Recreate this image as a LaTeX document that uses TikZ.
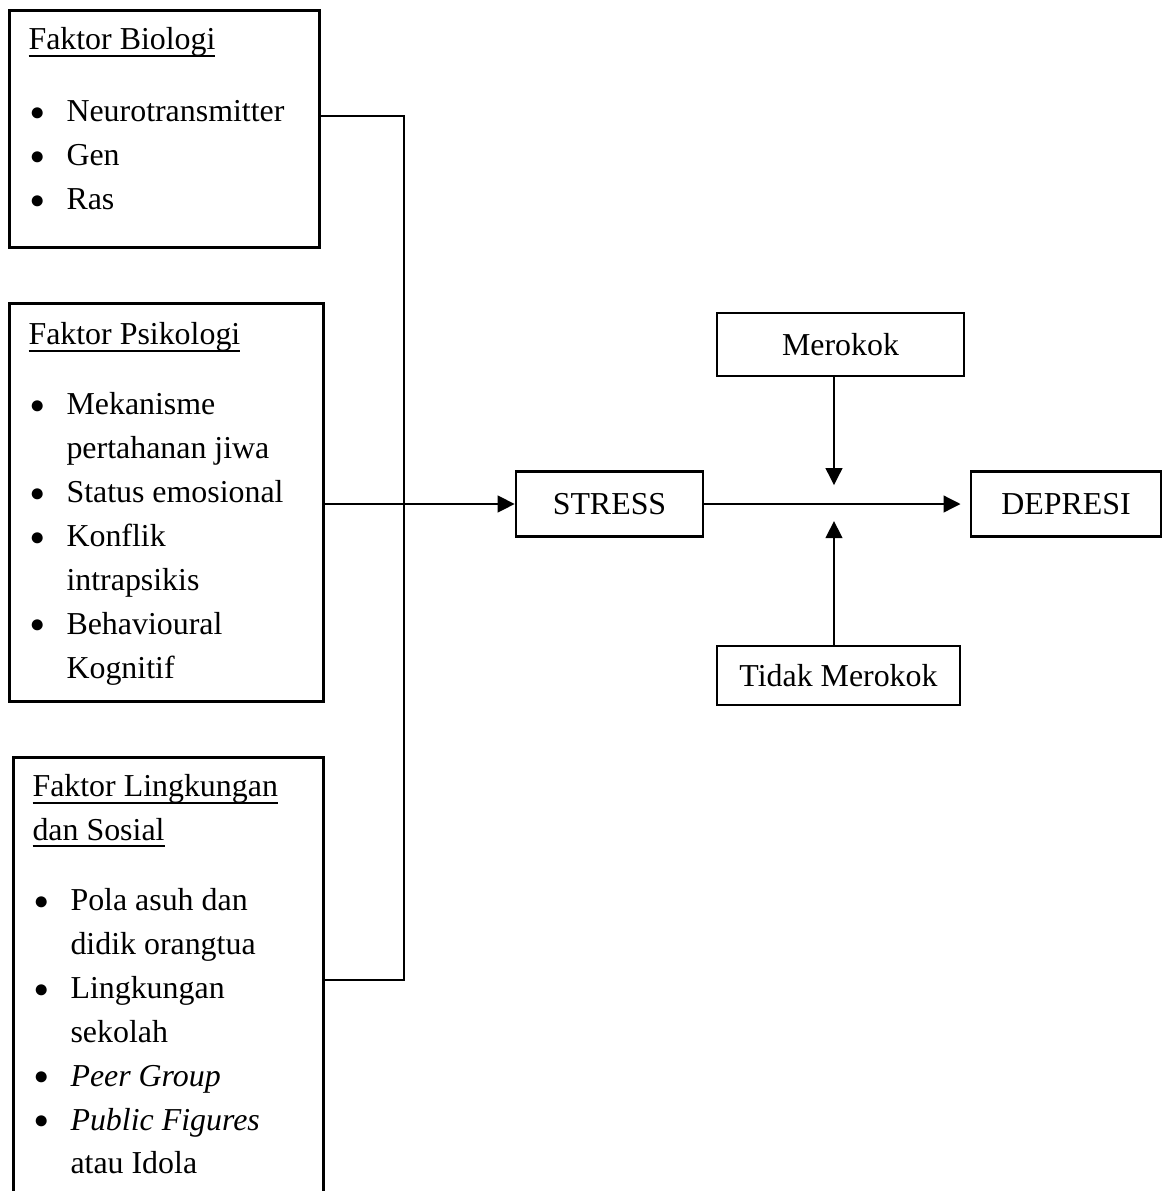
\documentclass[tikz,border=0pt]{standalone}
\usepackage{fontspec}
\setmainfont{Liberation Serif}
\usetikzlibrary{arrows.meta,positioning}
\newcommand{\ulbox}[1]{\setbox0\hbox{#1}\rlap{\rule[-2.6pt]{\wd0}{0.75pt}}\box0}
\newcommand{\bul}{\raisebox{0.5pt}{\fontsize{9.6}{9.6}\selectfont ●}}
\newcommand{\itm}[1]{\hspace*{0.4pt}\makebox[13.9pt][l]{\bul}#1}
\newcommand{\cnt}[1]{\hspace*{14.3pt}#1}
\tikzset{
  factor/.style={draw,line width=1pt,anchor=north west,inner sep=0pt},
  factortext/.style={anchor=north west,inner sep=0pt,align=left,font=\fontsize{12}{16.5}\selectfont},
  varbox/.style={draw,line width=1pt,font=\fontsize{12}{14}\selectfont,inner sep=0pt},
  link/.style={line width=1pt},
  arr/.style={-{Triangle[length=6.4pt,width=6.2pt]},line width=1pt}
}
\begin{document}
\begin{tikzpicture}[x=0.3762pt,y=-0.3762pt]
\path[use as bounding box] (0,0) rectangle (1163,1191);
\clip (0,0) rectangle (1163,1191);
% faktor boxes
\node[factor,minimum width=116.6pt,minimum height=89.2pt] (bio) at (8,9) {};
\node[factor,minimum width=118.1pt,minimum height=149.7pt] (psy) at (8,302) {};
\node[factor,minimum width=116.6pt,minimum height=173pt] (env) at (12,756) {};
\node[factortext] (bio-text) at (28,27) {\ulbox{Faktor Biologi}\\[10.6pt]
  \itm{Neurotransmitter}\\ \itm{Gen}\\ \itm{Ras}};
\node[factortext] (psy-text) at (28,322) {\ulbox{Faktor Psikologi}\\[9.9pt]
  \itm{Mekanisme}\\ \cnt{pertahanan jiwa}\\ \itm{Status emosional}\\
  \itm{Konflik}\\ \cnt{intrapsikis}\\ \itm{Behavioural}\\ \cnt{Kognitif}};
\node[factortext] (env-text) at (32,774) {\ulbox{Faktor Lingkungan}\\ \ulbox{dan Sosial}\\[9.9pt]
  \itm{Pola asuh dan}\\ \cnt{didik orangtua}\\ \itm{Lingkungan}\\ \cnt{sekolah}\\
  \itm{\textit{Peer Group}}\\ \itm{\textit{Public Figures}}\\ \cnt{atau Idola}};
% variabel
\node[varbox,minimum width=70.3pt,minimum height=24.5pt] (stress) at (609.5,504) {STRESS};
\node[varbox,minimum width=71.5pt,minimum height=24.5pt] (depresi) at (1066,504) {DEPRESI};
\node[varbox,minimum width=92.9pt,minimum height=23.7pt] (merokok) at (840.5,344.5) {Merokok};
\node[varbox,minimum width=91.4pt,minimum height=22.2pt] (tidak) at (838.5,675.5) {Tidak Merokok};
% connectors
\coordinate (bus-top) at (404,116);
\coordinate (bus-bot) at (404,980);
\coordinate (meet) at (834,504);
\draw[link] (bio.east |- bus-top) -| (bus-bot) -- (env.east |- bus-bot);
\draw[arr] (psy.east |- stress.west) -- (stress.west);
\draw[arr,shorten >=3.4pt] (stress) -- (depresi);
\draw[arr,shorten >=7.1pt] (merokok.south -| meet) -- (meet);
\draw[arr,shorten >=6.4pt] (tidak.north -| meet) -- (meet);
\end{tikzpicture}
\end{document}
